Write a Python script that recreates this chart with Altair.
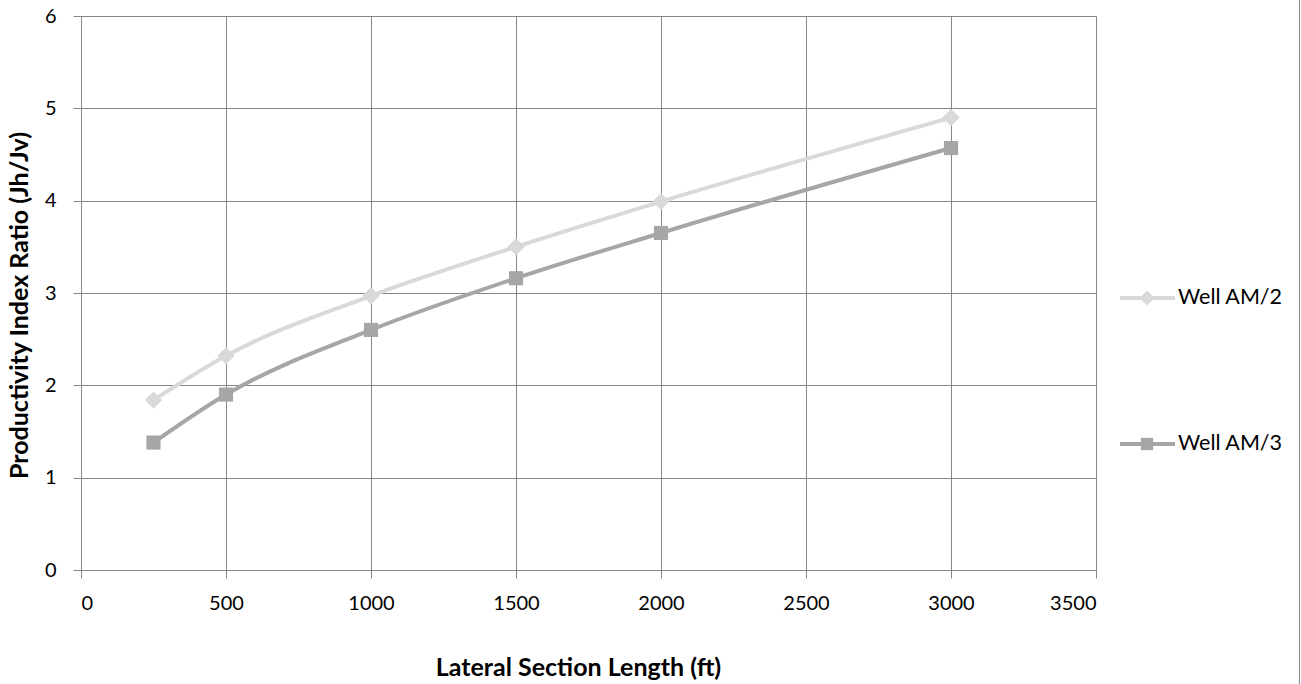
import altair as alt
import pandas as pd

lengths = [250, 500, 1000, 1500, 2000, 3000]
am2 = [1.84, 2.32, 2.97, 3.50, 3.99, 4.90]
am3 = [1.38, 1.90, 2.60, 3.16, 3.65, 4.57]
series_names = ["Well AM/2", "Well AM/3"]
series_colors = ["#d9d9d9", "#a6a6a6"]
series_shapes = ["diamond", "square"]
series_sizes = [300, 200]
x_ticks = [0, 500, 1000, 1500, 2000, 2500, 3000, 3500]
y_ticks = [0, 1, 2, 3, 4, 5, 6]

rows = []
for name, vals in zip(series_names, [am2, am3]):
    for L, v in zip(lengths, vals):
        rows.append({"length": L, "ratio": v, "series": name})
df = pd.DataFrame(rows)

FONT = "Lato"
GRID = "#868686"
TOP = 16

color = alt.Color("series:N", scale=alt.Scale(domain=series_names, range=series_colors), legend=None)
shape = alt.Shape("series:N", scale=alt.Scale(domain=series_names, range=series_shapes), legend=None)
size = alt.Size("series:N", scale=alt.Scale(domain=series_names, range=series_sizes), legend=None)

x = alt.X("length:Q", scale=alt.Scale(domain=[0, 3500], nice=False),
          axis=alt.Axis(values=x_ticks, format="d", title="Lateral Section Length (ft)", grid=True,
                        gridColor=GRID, domainColor=GRID, tickColor=GRID, tickSize=8,
                        labelPadding=15, titlePadding=42, labelFontSize=20, titleFontSize=25,
                        labelFont=FONT, titleFont=FONT, titleFontWeight="bold",
                        labelColor="#000000", titleColor="#000000", titleX=497))
y = alt.Y("ratio:Q", scale=alt.Scale(domain=[0, 6], nice=False),
          axis=alt.Axis(values=y_ticks, format="d", title="Productivity Index Ratio (Jh/Jv)", grid=True,
                        gridColor=GRID, domainColor=GRID, tickColor=GRID, tickSize=8,
                        labelPadding=17, labelFontSize=20, titleFontSize=25,
                        labelFont=FONT, titleFont=FONT, titleFontWeight="bold",
                        labelColor="#000000", titleColor="#000000", titleX=-62, titleY=305 - TOP,
                        titleBaseline="middle"))

lines = alt.Chart(df).mark_line(strokeWidth=4, interpolate="monotone").encode(x=x, y=y, color=color, detail="series:N")
points = alt.Chart(df).mark_point(filled=True, opacity=1).encode(x="length:Q", y="ratio:Q", color=color, shape=shape, size=size)

legend_layers = []
legend_y = [298 - TOP, 444 - TOP]
for name, col, shp, sz, ly in zip(series_names, series_colors, series_shapes, series_sizes, legend_y):
    ld = pd.DataFrame({"series": [name]})
    legend_layers.append(alt.Chart(ld).mark_rule(strokeWidth=4, color=col).encode(
        x=alt.value(1039), x2=alt.value(1094), y=alt.value(ly)))
    legend_layers.append(alt.Chart(ld).mark_point(filled=True, opacity=1, size=sz * 0.75, shape=shp, color=col).encode(
        x=alt.value(1066), y=alt.value(ly)))
    legend_layers.append(alt.Chart(ld).mark_text(align="left", baseline="middle", font=FONT, fontSize=21.5, color="#000000").encode(
        x=alt.value(1097), y=alt.value(ly), text="series:N"))

border = alt.Chart(pd.DataFrame({"series": ["b"]})).mark_rule(color="#888888", strokeWidth=1).encode(
    x=alt.value(1218.5), y=alt.value(-TOP), y2=alt.value(684 - TOP))

chart = alt.layer(lines, points, *legend_layers, border).properties(
    width=1015, height=554,
    padding={"left": 81, "top": TOP, "right": 205, "bottom": 114},
    autosize=alt.AutoSizeParams(type="none"),
    background="#ffffff",
).configure_view(stroke=None)

chart.save("out.html", embed_options={"renderer": "svg", "actions": False})
